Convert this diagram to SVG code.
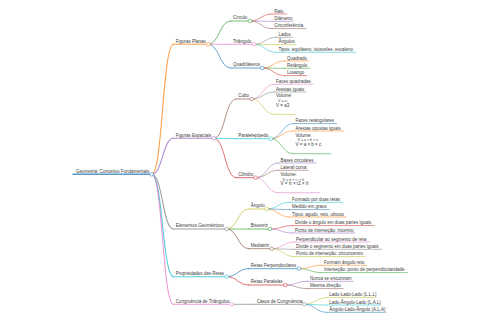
<svg xmlns="http://www.w3.org/2000/svg" width="480" height="320" viewBox="0 0 480 320">
<style>
text{font-family:"Liberation Sans",Arial,sans-serif;font-size:4.5px;fill:#3a3a3a}
.s{font-size:3.6px;font-style:italic}
path,line{fill:none;stroke-linecap:round}
.l1{stroke-width:1.1}.l2{stroke-width:0.9}.l3{stroke-width:0.7}
circle{fill:#fff;stroke-width:0.7}
.c0{stroke:#1f77b4}.c1{stroke:#ff7f0e}.c2{stroke:#2ca02c}.c3{stroke:#d62728}.c4{stroke:#9467bd}
.c5{stroke:#8c564b}.c6{stroke:#e377c2}.c7{stroke:#7f7f7f}.c8{stroke:#bcbd22}.c9{stroke:#17becf}
g line,g path,g circle{stroke-opacity:0.75}
</style>
<rect width="480" height="320" fill="#fff"/>
<g id="connectors">
<path class="l1 c1" d="M151.7,174.3 C162.6,174.3 162.6,44.3 173.5,44.3"/>
<path class="l1 c4" d="M151.7,174.3 C162.6,174.3 162.6,138.3 173.5,138.3"/>
<path class="l1 c7" d="M151.7,174.3 C162.6,174.3 162.6,229 173.5,229"/>
<path class="l1 c9" d="M151.7,174.3 C162.6,174.3 162.6,276.7 173.5,276.7"/>
<path class="l1 c6" d="M151.7,174.3 C162.6,174.3 162.6,304.3 173.5,304.3"/>
<path class="l2 c2" d="M208.3,44.3 C219.4,44.3 219.4,21 230.5,21"/>
<path class="l2 c6" d="M208.3,44.3 C219.4,44.3 219.4,44.3 230.5,44.3"/>
<path class="l2 c0" d="M208.3,44.3 C219.4,44.3 219.4,68 230.5,68"/>
<path class="l2 c5" d="M214,138.3 C225,138.3 225,99 236,99"/>
<path class="l2 c9" d="M214,138.3 C225,138.3 225,138.7 236,138.7"/>
<path class="l2 c3" d="M214,138.3 C225,138.3 225,177.7 236,177.7"/>
<path class="l2 c8" d="M226.7,229 C237.7,229 237.7,209 248.7,209"/>
<path class="l2 c2" d="M226.7,229 C237.7,229 237.7,229 248.7,229"/>
<path class="l2 c5" d="M226.7,229 C237.7,229 237.7,248.7 248.7,248.7"/>
<path class="l2 c0" d="M226.7,276.7 C237.7,276.7 237.7,268.7 248.7,268.7"/>
<path class="l2 c3" d="M226.7,276.7 C237.7,276.7 237.7,285 248.7,285"/>
<path class="l2 c7" d="M231.7,304.3 C242.9,304.3 242.9,304.3 254,304.3"/>
<path class="l3 c3" d="M250,21 C261,21 261,14 272,14"/>
<path class="l3 c4" d="M250,21 C261,21 261,21.3 272,21.3"/>
<path class="l3 c5" d="M250,21 C261,21 261,28.6 272,28.6"/>
<path class="l3 c7" d="M254,44.3 C265,44.3 265,37.3 276,37.3"/>
<path class="l3 c8" d="M254,44.3 C265,44.3 265,44.6 276,44.6"/>
<path class="l3 c9" d="M254,44.3 C265,44.3 265,52.3 276,52.3"/>
<path class="l3 c1" d="M262.3,68 C273.4,68 273.4,61 284.5,61"/>
<path class="l3 c2" d="M262.3,68 C273.4,68 273.4,68.3 284.5,68.3"/>
<path class="l3 c3" d="M262.3,68 C273.4,68 273.4,75.6 284.5,75.6"/>
<path class="l3 c6" d="M251.7,99 C262.9,99 262.9,84.3 274,84.3"/>
<path class="l3 c7" d="M251.7,99 C262.9,99 262.9,92 274,92"/>
<path class="l3 c8" d="M251.7,99 C262.9,99 262.9,114.3 274,114.3"/>
<path class="l3 c0" d="M270.7,138.7 C281.9,138.7 281.9,123.6 293,123.6"/>
<path class="l3 c1" d="M270.7,138.7 C281.9,138.7 281.9,131 293,131"/>
<path class="l3 c2" d="M270.7,138.7 C281.9,138.7 281.9,153.7 293,153.7"/>
<path class="l3 c4" d="M255.7,177.7 C266.9,177.7 266.9,163 278,163"/>
<path class="l3 c5" d="M255.7,177.7 C266.9,177.7 266.9,170.3 278,170.3"/>
<path class="l3 c6" d="M255.7,177.7 C266.9,177.7 266.9,192.7 278,192.7"/>
<path class="l3 c9" d="M266.7,209 C278.1,209 278.1,202.3 289.5,202.3"/>
<path class="l3 c0" d="M266.7,209 C278.1,209 278.1,209.6 289.5,209.6"/>
<path class="l3 c1" d="M266.7,209 C278.1,209 278.1,217 289.5,217"/>
<path class="l3 c3" d="M270,229 C281.3,229 281.3,225.6 292.5,225.6"/>
<path class="l3 c4" d="M270,229 C281.3,229 281.3,233 292.5,233"/>
<path class="l3 c6" d="M271.7,248.7 C282.9,248.7 282.9,242 294,242"/>
<path class="l3 c7" d="M271.7,248.7 C282.9,248.7 282.9,249.3 294,249.3"/>
<path class="l3 c8" d="M271.7,248.7 C282.9,248.7 282.9,256.6 294,256.6"/>
<path class="l3 c1" d="M299,268.7 C310.3,268.7 310.3,265.3 321.5,265.3"/>
<path class="l3 c2" d="M299,268.7 C310.3,268.7 310.3,272.6 321.5,272.6"/>
<path class="l3 c4" d="M285.3,285 C296.4,285 296.4,281.3 307.5,281.3"/>
<path class="l3 c5" d="M285.3,285 C296.4,285 296.4,288.6 307.5,288.6"/>
<path class="l3 c8" d="M304.3,304.3 C315.4,304.3 315.4,297.6 326.5,297.6"/>
<path class="l3 c9" d="M304.3,304.3 C315.4,304.3 315.4,305 326.5,305"/>
<path class="l3 c0" d="M304.3,304.3 C315.4,304.3 315.4,312.3 326.5,312.3"/>
</g>
<g id="root"><line class="c0" stroke-width="1.5" x1="73" y1="174.3" x2="151.7" y2="174.3"/><text x="76" y="172.6">Geometria: Conceitos Fundamentais</text><circle class="c0" cx="151.7" cy="174.3" r="1.8"/></g>
<g id="figuras-planas"><line class="l1 c1" x1="173.5" y1="44.3" x2="208.3" y2="44.3"/><text x="175.7" y="42.7">Figuras Planas</text><circle class="c1" cx="208.3" cy="44.3" r="1.8"/></g>
<g id="circulo"><line class="l2 c2" x1="230.5" y1="21" x2="250" y2="21"/><text x="233" y="19.4">Círculo</text><circle class="c2" cx="250" cy="21" r="1.8"/></g>
<g id="raio"><line class="l3 c3" x1="272" y1="14" x2="286.7" y2="14"/><text x="274.3" y="12.5">Raio</text></g>
<g id="diametro"><line class="l3 c4" x1="272" y1="21.3" x2="293.3" y2="21.3"/><text x="274.3" y="19.8">Diâmetro</text></g>
<g id="circunferencia"><line class="l3 c5" x1="272" y1="28.6" x2="306" y2="28.6"/><text x="274.3" y="27.1">Circunferência</text></g>
<g id="triangulo"><line class="l2 c6" x1="230.5" y1="44.3" x2="254" y2="44.3"/><text x="233" y="42.7">Triângulo</text><circle class="c6" cx="254" cy="44.3" r="1.8"/></g>
<g id="lados"><line class="l3 c7" x1="276" y1="37.3" x2="292.3" y2="37.3"/><text x="278.5" y="35.8">Lados</text></g>
<g id="angulos"><line class="l3 c8" x1="276" y1="44.6" x2="296" y2="44.6"/><text x="278.5" y="43.1">Ângulos</text></g>
<g id="tipos-tri"><line class="l3 c9" x1="276" y1="52.3" x2="356" y2="52.3"/><text x="278.5" y="50.8">Tipos: equilátero, isósceles, escaleno</text></g>
<g id="quadrilateros"><line class="l2 c0" x1="230.5" y1="68" x2="262.3" y2="68"/><text x="233" y="66.4">Quadriláteros</text><circle class="c0" cx="262.3" cy="68" r="1.8"/></g>
<g id="quadrado"><line class="l3 c1" x1="284.5" y1="61" x2="308.3" y2="61"/><text x="287" y="59.5">Quadrado</text></g>
<g id="retangulo"><line class="l3 c2" x1="284.5" y1="68.3" x2="310" y2="68.3"/><text x="287" y="66.8">Retângulo</text></g>
<g id="losango"><line class="l3 c3" x1="284.5" y1="75.6" x2="306.7" y2="75.6"/><text x="287" y="74.1">Losango</text></g>
<g id="figuras-espaciais"><line class="l1 c4" x1="173.5" y1="138.3" x2="214" y2="138.3"/><text x="175.7" y="136.7">Figuras Espaciais</text><circle class="c4" cx="214" cy="138.3" r="1.8"/></g>
<g id="cubo"><line class="l2 c5" x1="236" y1="99" x2="251.7" y2="99"/><text x="238.3" y="97.4">Cubo</text><circle class="c5" cx="251.7" cy="99" r="1.8"/></g>
<g id="faces-quadradas"><line class="l3 c6" x1="274" y1="84.3" x2="313.3" y2="84.3"/><text x="276" y="82.8">Faces quadradas</text></g>
<g id="arestas-iguais"><line class="l3 c7" x1="274" y1="92" x2="306" y2="92"/><text x="276" y="90.5">Arestas iguais</text></g>
<g id="volume-cubo"><line class="l3 c8" x1="274" y1="114.3" x2="296" y2="114.3"/><text x="276" y="97.3">Volume:</text><text class="s" x="278" y="102">V = a³</text><text x="276" y="107">V  = a3</text></g>
<g id="paralelepipedo"><line class="l2 c9" x1="236" y1="138.7" x2="270.7" y2="138.7"/><text x="238.3" y="137.1">Paralelepípedo</text><circle class="c9" cx="270.7" cy="138.7" r="1.8"/></g>
<g id="faces-retangulares"><line class="l3 c0" x1="293" y1="123.6" x2="336.7" y2="123.6"/><text x="295.5" y="122.1">Faces retangulares</text></g>
<g id="arestas-opostas"><line class="l3 c1" x1="293" y1="131" x2="344" y2="131"/><text x="295.5" y="129.5">Arestas opostas iguais</text></g>
<g id="volume-par"><line class="l3 c2" x1="293" y1="153.7" x2="330.7" y2="153.7"/><text x="295.5" y="136.6">Volume:</text><text class="s" x="297.5" y="141.3">V = a × b × c</text><text x="295.5" y="146">V  = a × b × c</text></g>
<g id="cilindro"><line class="l2 c3" x1="236" y1="177.7" x2="255.7" y2="177.7"/><text x="238.3" y="176.1">Cilindro</text><circle class="c3" cx="255.7" cy="177.7" r="1.8"/></g>
<g id="bases-circulares"><line class="l3 c4" x1="278" y1="163" x2="316" y2="163"/><text x="280.5" y="161.5">Bases circulares</text></g>
<g id="lateral-curva"><line class="l3 c5" x1="278" y1="170.3" x2="308.3" y2="170.3"/><text x="280.5" y="168.8">Lateral curva</text></g>
<g id="volume-cil"><line class="l3 c6" x1="278" y1="192.7" x2="320" y2="192.7"/><text x="280.5" y="175.9">Volume:</text><text class="s" x="282.5" y="180.6">V = π × r² × h</text><text x="280.5" y="185.3">V  = π × r2 × h</text></g>
<g id="elementos"><line class="l1 c7" x1="173.5" y1="229" x2="226.7" y2="229"/><text x="175.7" y="227.4">Elementos Geométricos</text><circle class="c7" cx="226.7" cy="229" r="1.8"/></g>
<g id="angulo"><line class="l2 c8" x1="248.7" y1="209" x2="266.7" y2="209"/><text x="250.7" y="207.4">Ângulo</text><circle class="c8" cx="266.7" cy="209" r="1.8"/></g>
<g id="formado"><line class="l3 c9" x1="289.5" y1="202.3" x2="342.7" y2="202.3"/><text x="292" y="200.8">Formado por duas retas</text></g>
<g id="medido"><line class="l3 c0" x1="289.5" y1="209.6" x2="329.3" y2="209.6"/><text x="292" y="208.1">Medido em graus</text></g>
<g id="tipos-ang"><line class="l3 c1" x1="289.5" y1="217" x2="346" y2="217"/><text x="292" y="215.5">Tipos: agudo, reto, obtuso</text></g>
<g id="bissetriz"><line class="l2 c2" x1="248.7" y1="229" x2="270" y2="229"/><text x="250.7" y="227.4">Bissetriz</text><circle class="c2" cx="270" cy="229" r="1.8"/></g>
<g id="divide-angulo"><line class="l3 c3" x1="292.5" y1="225.6" x2="374.3" y2="225.6"/><text x="295" y="224.1">Divide o ângulo em duas partes iguais</text></g>
<g id="incentro"><line class="l3 c4" x1="292.5" y1="233" x2="355" y2="233"/><text x="295" y="231.5">Ponto de interseção: incentro</text></g>
<g id="mediatriz"><line class="l2 c5" x1="248.7" y1="248.7" x2="271.7" y2="248.7"/><text x="250.7" y="247.1">Mediatriz</text><circle class="c5" cx="271.7" cy="248.7" r="1.8"/></g>
<g id="perpendicular"><line class="l3 c6" x1="294" y1="242" x2="370" y2="242"/><text x="296" y="240.5">Perpendicular ao segmento de reta</text></g>
<g id="divide-segmento"><line class="l3 c7" x1="294" y1="249.3" x2="381.7" y2="249.3"/><text x="296" y="247.8">Divide o segmento em duas partes iguais</text></g>
<g id="circuncentro"><line class="l3 c8" x1="294" y1="256.6" x2="365" y2="256.6"/><text x="296" y="255.1">Ponto de interseção: circuncentro</text></g>
<g id="propriedades"><line class="l1 c9" x1="173.5" y1="276.7" x2="226.7" y2="276.7"/><text x="175.7" y="275.1">Propriedades das Retas</text><circle class="c9" cx="226.7" cy="276.7" r="1.8"/></g>
<g id="retas-perpendiculares"><line class="l2 c0" x1="248.7" y1="268.7" x2="299" y2="268.7"/><text x="250.7" y="267.1">Retas Perpendiculares</text><circle class="c0" cx="299" cy="268.7" r="1.8"/></g>
<g id="formam"><line class="l3 c1" x1="321.5" y1="265.3" x2="366.7" y2="265.3"/><text x="324" y="263.8">Formam ângulo reto</text></g>
<g id="intersecao"><line class="l3 c2" x1="321.5" y1="272.6" x2="407.3" y2="272.6"/><text x="324" y="271.1">Interseção: ponto de perpendicularidade</text></g>
<g id="retas-paralelas"><line class="l2 c3" x1="248.7" y1="285" x2="285.3" y2="285"/><text x="250.7" y="283.4">Retas Paralelas</text><circle class="c3" cx="285.3" cy="285" r="1.8"/></g>
<g id="nunca"><line class="l3 c4" x1="307.5" y1="281.3" x2="353.3" y2="281.3"/><text x="310" y="279.8">Nunca se encontram</text></g>
<g id="mesma"><line class="l3 c5" x1="307.5" y1="288.6" x2="343.3" y2="288.6"/><text x="310" y="287.1">Mesma direção</text></g>
<g id="congruencia"><line class="l1 c6" x1="173.5" y1="304.3" x2="231.7" y2="304.3"/><text x="175.7" y="302.7">Congruência de Triângulos</text><circle class="c6" cx="231.7" cy="304.3" r="1.8"/></g>
<g id="casos"><line class="l2 c7" x1="254" y1="304.3" x2="304.3" y2="304.3"/><text x="256.7" y="302.7">Casos de Congruência</text><circle class="c7" cx="304.3" cy="304.3" r="1.8"/></g>
<g id="lll"><line class="l3 c8" x1="326.5" y1="297.6" x2="376" y2="297.6"/><text x="329.3" y="296.1">Lado-Lado-Lado (L.L.L)</text></g>
<g id="lal"><line class="l3 c9" x1="326.5" y1="305" x2="380" y2="305"/><text x="329.3" y="303.5">Lado-Ângulo-Lado (L.A.L)</text></g>
<g id="ala"><line class="l3 c0" x1="326.5" y1="312.3" x2="385.7" y2="312.3"/><text x="329.3" y="310.8">Ângulo-Lado-Ângulo (A.L.A)</text></g>
</svg>
